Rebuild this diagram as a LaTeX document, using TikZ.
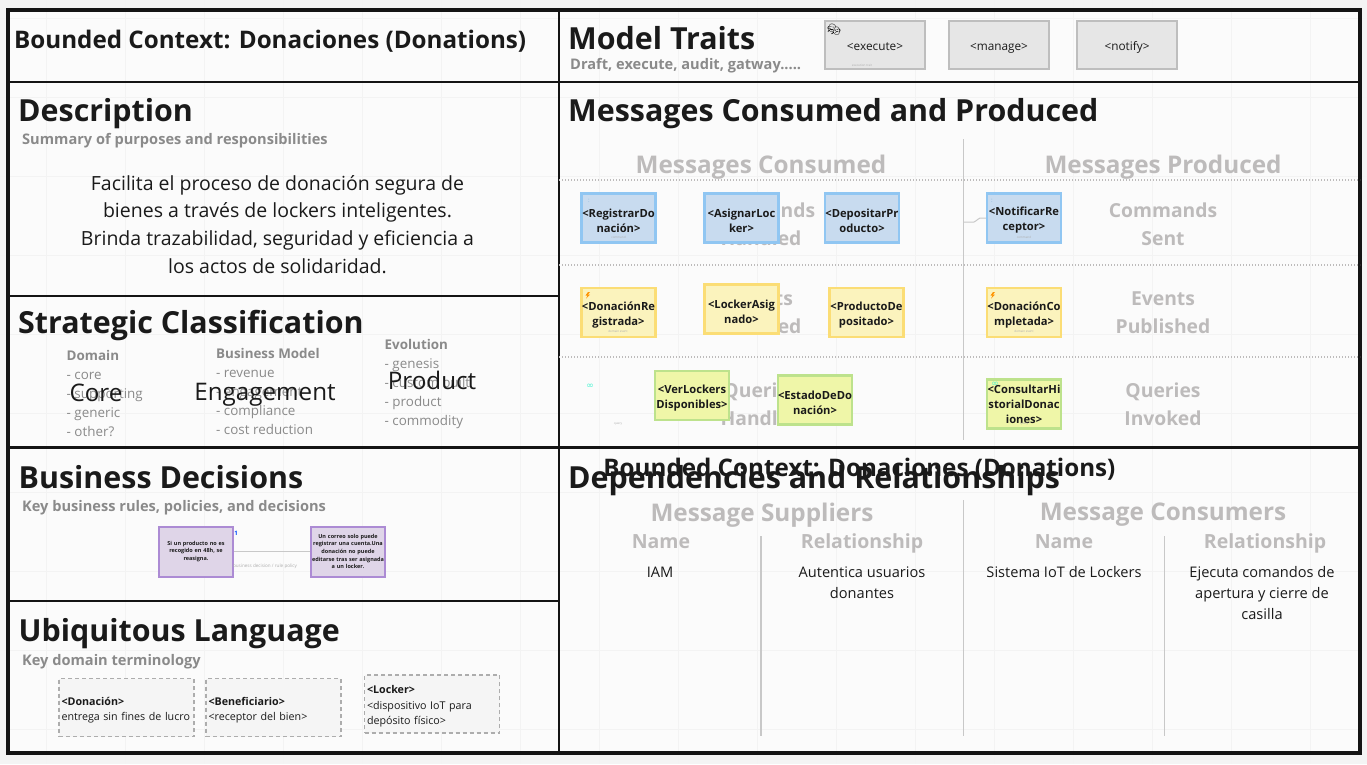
\documentclass[tikz,border=0pt]{standalone}
\usepackage{fontspec}
\setmainfont{Open Sans}
\newfontfamily\symfont{DejaVu Sans}
\newfontfamily\emojifont{Noto Emoji}
\newcommand{\padtop}{\rule{0pt}{13.5pt}}
\newcommand{\padcard}{\rule{0pt}{13.5pt}}
\definecolor{ink}{HTML}{1A1A1A}
\definecolor{frame}{HTML}{141414}
\definecolor{page}{HTML}{FBFBFB}
\definecolor{outside}{HTML}{F4F4F4}
\definecolor{gridc}{HTML}{F3F3F3}
\definecolor{sub}{HTML}{8A8A8A}
\definecolor{ghost}{HTML}{BDBBBB}
\definecolor{rulec}{HTML}{C8C8C8}
\definecolor{bluef}{HTML}{C8DBEF}\definecolor{blued}{HTML}{90C6F2}
\definecolor{yelf}{HTML}{FBF3BD}\definecolor{yeld}{HTML}{FBDD75}
\definecolor{grnf}{HTML}{EFF6A8}\definecolor{grnd}{HTML}{BDE28C}
\definecolor{purf}{HTML}{DFD5E8}\definecolor{purd}{HTML}{AC8BD4}
\definecolor{grayf}{HTML}{E6E6E6}\definecolor{grayd}{HTML}{BEBEBE}
\tikzset{
 x=1pt,y=-1pt,
 frameline/.style={draw=frame,line width=2.6pt},
 head/.style={anchor=west,inner sep=0pt,text=ink,font=\fontsize{30.4}{30}\selectfont\bfseries},
 subhead/.style={anchor=west,inner sep=0pt,text=sub,font=\fontsize{14.6}{14}\selectfont\bfseries},
 ghosthead/.style={inner sep=0pt,text=ghost,font=\fontsize{24.3}{24}\selectfont\bfseries},
 ghostlabel/.style={inner sep=0pt,text=ghost,align=center,font=\fontsize{19.3}{28}\selectfont\bfseries},
 colhead/.style={inner sep=0pt,text=ghost,font=\fontsize{19.5}{20}\selectfont\bfseries},
 body/.style={inner sep=0pt,text=ink,align=center,font=\fontsize{19.5}{27.7}\selectfont},
 cell/.style={inner sep=0pt,text=ink,align=center,font=\fontsize{14.6}{21}\selectfont},
 listing/.style={anchor=north west,inner sep=0pt,text=sub,align=left,font=\fontsize{13.4}{19}\selectfont},
 bigword/.style={inner sep=0pt,text=ink,font=\fontsize{24.2}{24}\selectfont},
 card/.style={minimum width=74pt,minimum height=49pt,inner sep=0pt,line width=2.4pt,align=center,text=ink,font=\fontsize{11.2}{15}\selectfont\bfseries},
 cmd/.style={card,draw=blued,fill=bluef},
 evt/.style={card,draw=yeld,fill=yelf},
 qry/.style={card,draw=grnd,fill=grnf},
 trait/.style={minimum width=100pt,minimum height=48pt,inner sep=0pt,text height=11pt,text depth=1pt,draw=grayd,fill=grayf,line width=2.4pt,text=ink,font=\fontsize{11.8}{12}\selectfont},
 rulecard/.style={minimum width=74pt,minimum height=50pt,text width=72pt,inner sep=0pt,draw=purd,fill=purf,line width=2pt,align=center,text=ink,font=\fontsize{5.5}{7.6}\selectfont\bfseries},
 term/.style={draw=sub!70,dash pattern=on 4pt off 3pt,fill=page!70!grayf,line width=1.1pt,minimum height=58pt,text width=130pt,inner xsep=2.5pt,inner ysep=0pt,align=left,anchor=center,text=ink,font=\fontsize{10.7}{15.5}\selectfont},
 dotrule/.style={draw=ghost,line width=1.6pt,dash pattern=on 1pt off 2pt},
 solidrule/.style={draw=rulec,line width=1.4pt},
 tiny/.style={inner sep=0pt,text=sub!70,font=\fontsize{3}{3}\selectfont},
 bolt/.style={fill=orange!85!yellow,draw=none},
}
\begin{document}
\begin{tikzpicture}
\useasboundingbox (0,0) rectangle (1367,764);
\fill[outside] (0,0) rectangle (1367,764);
\fill[page] (8,10) rectangle (1360,753);
% faint canvas grid
\foreach \gx in {46,125,204,283,362,441,520,599,678,757,836,915,994,1073,1152,1231,1310}
  \draw[gridc,line width=.5pt] (\gx,0) -- (\gx,764);
\foreach \gy in {18,97,176,255,334,413,492,571,650,729}
  \draw[gridc,line width=.5pt] (0,\gy) -- (1367,\gy);

% frame
\coordinate (fTL) at (8,10); \coordinate (fBR) at (1360,753);
\coordinate (vT) at (559,10); \coordinate (vB) at (559,753);
\coordinate (h1a) at (8,82); \coordinate (h1b) at (1360,82);
\coordinate (h2a) at (8,296); \coordinate (h2b) at (559,296);
\coordinate (h3a) at (8,447.5); \coordinate (h3b) at (1360,447.5);
\coordinate (h4a) at (8,601); \coordinate (h4b) at (559,601);
\draw[frameline,line width=3.4pt] (fTL) rectangle (fBR);
\draw[frameline] (vT) -- (vB);
\draw[frameline] (h1a) -- (h1b);
\draw[frameline] (h2a) -- (h2b);
\draw[frameline] (h3a) -- (h3b);
\draw[frameline] (h4a) -- (h4b);

% left column
\node[head,font=\fontsize{24.2}{24}\selectfont\bfseries] (bc) at (14,41.5) {Bounded Context: Donaciones (Donations)};
\node[head] (desc) at (18,113.5) {Description};
\node[subhead] (descs) at (22,141) {Summary of purposes and responsibilities};
\node[body] (desct) at (277.5,224.5) {Facilita el proceso de donación segura de\\bienes a través de lockers inteligentes.\\Brinda trazabilidad, seguridad y eficiencia a\\los actos de solidaridad.};

\node[head] (strat) at (18,326) {Strategic Classification};
\node[listing] (dom) at (66.5,350.5) {\textbf{Domain}\\- core\\- supporting\\- generic\\- other?};
\node[listing] (biz) at (216,348) {\textbf{Business Model}\\- revenue\\- engagement\\- compliance\\- cost reduction};
\node[listing] (evo) at (384.5,339) {\textbf{Evolution}\\- genesis\\- custom built\\- product\\- commodity};
\node[bigword] (core) at (96,392.5) {Core};
\node[bigword] (eng) at (265,394.5) {Engagement};
\node[bigword] (prod) at (432,380) {Product};

\node[head] (bd) at (18.5,477.5) {Business Decisions};
\node[subhead] (bds) at (22,508) {Key business rules, policies, and decisions};
\node[rulecard] (r1) at (196,551.5) {Si un producto no es\\recogido en 48h, se\\reasigna.};
\node[rulecard] (r2) at (348,551.5) {Un correo solo puede\\registrar una cuenta.Una\\donación no puede\\editarse tras ser asignada\\a un locker.};
\draw[solidrule,line width=.8pt] (r1) -- (r2);
\node[tiny,font=\fontsize{4.6}{5}\selectfont] (rl) at (265,566) {business decision / rule policy};
\node[inner sep=0pt,text=blue!70!cyan,font=\fontsize{6}{6}\selectfont\bfseries] (rn) at (236,533) {1};

\node[head] (ul) at (18.5,633.5) {Ubiquitous Language};
\node[subhead] (uls) at (22,661.5) {Key domain terminology};
\node[term] (t1) at (126.5,707.5) {\padtop\textbf{<Donación>}\\\mbox{entrega sin fines de lucro}};
\node[term] (t2) at (273.5,707.5) {\padtop\textbf{<Beneficiario>}\\<receptor del bien>};
\node[term] (t3) at (432,704) {\padtop\textbf{<Locker>}\\<dispositivo IoT para\\depósito físico>};

% model traits
\node[head] (mt) at (568,38.5) {Model Traits};
\node[subhead] (mts) at (570,65.5) {Draft, execute, audit, gatway.....};
\node[trait] (tr1) at (875,45) {<execute>};
\node[trait] (tr2) at (999,45) {<manage>};
\node[trait] (tr3) at (1127,45) {<notify>};
\node[inner sep=0pt,text=black,font=\emojifont\fontsize{11}{11}\selectfont] (mask) at (834,30) {🎭};
\node[tiny] (trt) at (862,65) {execution trait};

% messages
\node[head] (mcp) at (568,113.5) {Messages Consumed and Produced};
\node[ghosthead] (mc) at (761,167) {Messages Consumed};
\node[ghosthead] (mp) at (1163,167) {Messages Produced};
\coordinate (d1a) at (559,180); \coordinate (d1b) at (1360,180);
\coordinate (d2a) at (559,265); \coordinate (d2b) at (1360,265);
\coordinate (d3a) at (559,357); \coordinate (d3b) at (1360,357);
\coordinate (spT) at (963.5,139); \coordinate (spB) at (963.5,440);
\draw[dotrule] (d1a) -- (d1b);
\draw[dotrule] (d2a) -- (d2b);
\draw[dotrule] (d3a) -- (d3b);
\draw[solidrule] (spT) -- (spB);

\node[ghostlabel] (gl1) at (761,224) {Commands\\Handled};
\node[ghostlabel] (gl2) at (761,313) {Events\\Handled};
\node[ghostlabel] (gl3) at (761,404) {Queries\\Handled};
\node[ghostlabel] (gr1) at (1163,224) {Commands\\Sent};
\node[ghostlabel] (gr2) at (1163,313) {Events\\Published};
\node[ghostlabel] (gr3) at (1163,404) {Queries\\Invoked};

\node[cmd] (c1) at (618.5,218) {\padcard<RegistrarDo\\nación>};
\node[cmd] (c2) at (741.5,218) {\padcard<AsignarLoc\\ker>};
\node[cmd] (c3) at (862,218) {\padcard<DepositarPr\\oducto>};
\node[cmd] (c4) at (1024,218) {\padcard<NotificarRe\\ceptor>};
\coordinate (c4L) at (963.5,222);
\draw[rulec,line width=1pt,rounded corners=2pt] (c4L) -- (976,222) -- (978,218) -- (c4.west);

\node[evt] (e1) at (618.5,312.5) {\padcard<DonaciónRe\\gistrada>};
\node[evt] (e2) at (741.5,309) {\padcard<LockerAsig\\nado>};
\node[evt] (e3) at (866.5,312.5) {\padcard<ProductoDe\\positado>};
\node[evt] (e4) at (1024,312.5) {\padcard<DonaciónCo\\mpletada>};

\node[qry] (q1) at (692,395.5) {\padcard<VerLockers\\Disponibles>};
\node[qry] (q2) at (815,400) {\padcard<EstadoDeDo\\nación>};
\node[qry] (q3) at (1024,404) {<ConsultarHi\\storialDonac\\iones>};

\node[inner sep=0pt,text=blued!90!black,font=\fontsize{6}{6}\selectfont] (i1) at (589,200.5) {:};
\node[inner sep=0pt,text=blued!90!black,font=\fontsize{6}{6}\selectfont] (i2) at (992,200.5) {:};
\fill[bolt] (588,292) -- (585.5,295.5) -- (587.5,295.5) -- (586,298.5) -- (590,294.5) -- (588,294.5) -- (590,292) -- cycle;
\fill[bolt] (993,292) -- (990.5,295.5) -- (992.5,295.5) -- (991,298.5) -- (995,294.5) -- (993,294.5) -- (995,292) -- cycle;
\node[inner sep=0pt,text=grnd!40!cyan,font=\symfont\fontsize{9}{9}\selectfont] (i5) at (590,386) {∞};
\node[inner sep=0pt,text=grnd!40!cyan,font=\symfont\fontsize{9}{9}\selectfont] (i6) at (995,384) {∞};
\node[tiny] (s1) at (618.5,237) {command};
\node[tiny] (s2) at (1024,237) {command};
\node[tiny] (s3) at (618,331.5) {domain event};
\node[tiny] (s4) at (1024,331.5) {domain event};
\node[tiny] (s5) at (618,424) {query};
\node[tiny] (s6) at (1024,424) {query};

% dependencies
\node[inner sep=0pt,text=ink,font=\fontsize{24.2}{24}\selectfont\bfseries] (bc2) at (859.5,469) {Bounded Context: Donaciones (Donations)};
\node[head] (dep) at (568,480.5) {Dependencies and Relationships};
\node[ghosthead] (ms) at (762,515) {Message Suppliers};
\node[ghosthead] (mcs) at (1163,515) {Message Consumers};
\node[colhead] (n1) at (661,541.5) {Name};
\node[colhead] (rl1) at (862,543.5) {Relationship};
\node[colhead] (n2) at (1064,541.5) {Name};
\node[colhead] (rl2) at (1265,543.5) {Relationship};
\coordinate (a1) at (761,536); \coordinate (a2) at (761,736);
\coordinate (b1) at (963.5,500); \coordinate (b2) at (963.5,736);
\coordinate (c1T) at (1164.5,536); \coordinate (c1B) at (1164.5,736);
\draw[solidrule] (a1) -- (a2);
\draw[solidrule] (b1) -- (b2);
\draw[solidrule] (c1T) -- (c1B);
\node[cell] (v1) at (660,572) {IAM};
\node[cell,anchor=north] (v2) at (862,567) {Autentica usuarios\\donantes};
\node[cell] (v3) at (1064,572) {Sistema IoT de Lockers};
\node[cell,anchor=north] (v4) at (1262,566.5) {Ejecuta comandos de\\apertura y cierre de\\casilla};
\end{tikzpicture}
\end{document}
